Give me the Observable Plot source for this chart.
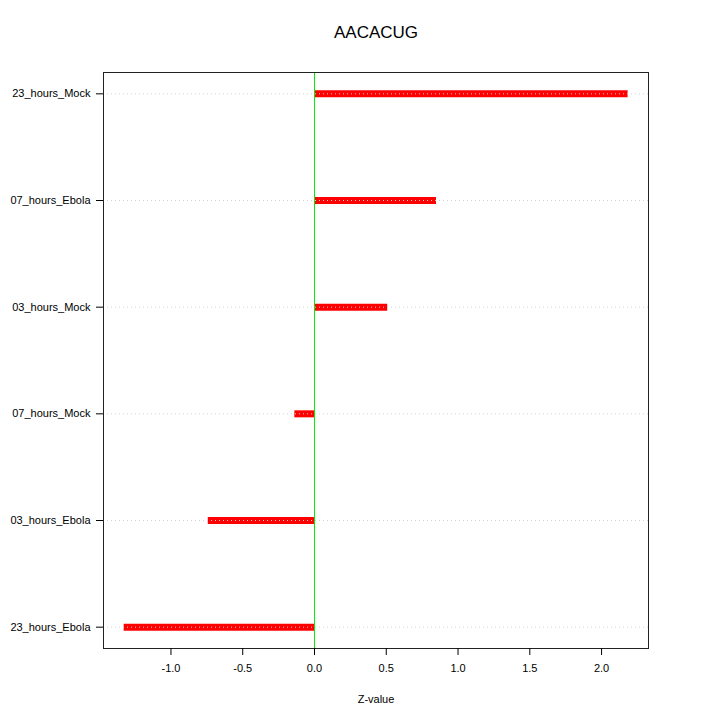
<!DOCTYPE html>
<html>
<head>
<meta charset="utf-8">
<script src="https://cdn.jsdelivr.net/npm/d3@7"></script>
<script src="https://cdn.jsdelivr.net/npm/@observablehq/plot@0.6"></script>
<style>
  html, body { margin: 0; padding: 0; background: #fff; }
  svg { display: block; }
</style>
</head>
<body>
<div id="chart"></div>
<script>
const title = "AACACUG";
const categories = ["23_hours_Mock", "07_hours_Ebola", "03_hours_Mock", "07_hours_Mock", "03_hours_Ebola", "23_hours_Ebola"];
const zvalues = [2.185, 0.85, 0.51, -0.137, -0.74, -1.326];
const xTicks = [-1.0, -0.5, 0.0, 0.5, 1.0, 1.5, 2.0];
const xLabel = "Z-value";

const data = categories.map((c, i) => ({category: c, z: zvalues[i]}));

const font = "'Liberation Sans', Arial, Helvetica, sans-serif";

const chart = Plot.plot({
  width: 720,
  height: 720,
  marginLeft: 103,
  marginRight: 72,
  marginTop: 72,
  marginBottom: 72,
  style: {fontFamily: font, fontSize: "11px", color: "#000", background: "#fff"},
  x: {domain: [-1.47, 2.327], ticks: xTicks, tickFormat: d => d.toFixed(1), label: null},
  y: {type: "point", domain: categories, padding: 0.2, round: false, label: null},
  marks: [
    Plot.ruleY(data, {y: "category", x1: 0, x2: "z", stroke: "#ff0000", strokeWidth: 7}),
    Plot.ruleY(categories, {y: d => d, stroke: "#d3d3d3", strokeDasharray: "1,3", strokeWidth: 1}),
    Plot.ruleX([0], {stroke: "#00ee00", strokeWidth: 1}),
    Plot.frame({stroke: "#222", strokeWidth: 1}),
    Plot.axisX({ticks: xTicks, tickFormat: d => d.toFixed(1), tickSize: 7, tickPadding: 9, fontSize: 11, label: null}),
    Plot.axisY({tickSize: 7, tickPadding: 6, fontSize: 11, label: null}),
    Plot.text([xLabel], {frameAnchor: "bottom", dy: 54, fontSize: 11, text: d => d}),
    Plot.text([title], {frameAnchor: "top", dy: -47, fontSize: 17, text: d => d})
  ]
});
document.getElementById("chart").appendChild(chart);
</script>
</body>
</html>
